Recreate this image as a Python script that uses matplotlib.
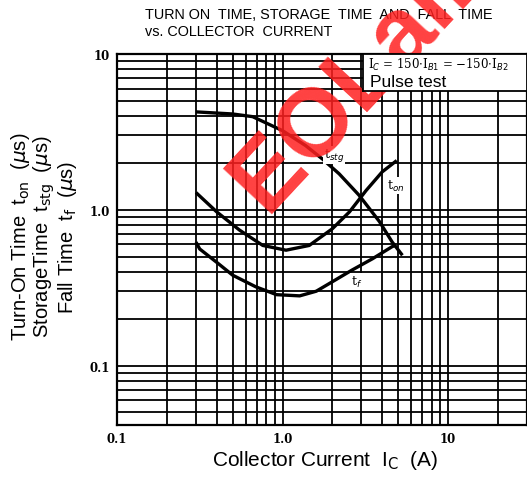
import matplotlib
matplotlib.use("Agg")
import matplotlib.pyplot as plt

# Switching times vs collector current (A -> microseconds)
ic_stg = [0.30, 0.50, 0.66, 1.0, 1.38, 1.74, 2.2, 2.9, 3.85, 4.6, 5.3]
t_stg = [4.25, 4.12, 3.96, 3.22, 2.58, 2.12, 1.70, 1.24, 0.84, 0.62, 0.51]

ic_on = [0.30, 0.40, 0.55, 0.76, 1.05, 1.45, 2.0, 2.54, 3.2, 4.0, 4.9]
t_on = [1.29, 0.97, 0.74, 0.59, 0.55, 0.59, 0.755, 0.97, 1.33, 1.75, 2.07]

ic_f = [0.30, 0.316, 0.40, 0.50, 0.69, 0.92, 1.27, 1.6, 2.0, 2.63, 3.5, 4.6, 4.8]
t_f = [0.62, 0.56, 0.46, 0.38, 0.32, 0.285, 0.28, 0.30, 0.345, 0.41, 0.485, 0.58, 0.59]

x_ticks = [0.1, 1.0, 10]
x_tick_labels = ["0.1", "1.0", "10"]
y_ticks = [0.1, 1.0, 10]
y_tick_labels = ["0.1", "1.0", "10"]

W, H = 527, 481
fig = plt.figure(figsize=(W / 100, H / 100), dpi=100)
ax = fig.add_axes([117 / W, 1 - 426 / H, (527 - 117) / W, (426 - 55) / H])
ax.set_xscale("log")
ax.set_yscale("log")
ax.set_xlim(0.1, 30)
ax.set_ylim(0.0415, 10)

# chart-paper grid
def grid_vals(lo_exp, hi_exp):
    vals = []
    for e in range(lo_exp, hi_exp):
        for m in range(1, 10):
            vals.append(m * 10.0 ** e)
    return vals

for xv in grid_vals(-1, 2):
    if 0.1 < xv < 30:
        ax.axvline(xv, color="black", lw=1.3, zorder=1)
for yv in grid_vals(-2, 1):
    if 0.0415 < yv < 10:
        ax.axhline(yv, color="black", lw=1.3, zorder=1)

for s in ax.spines.values():
    s.set_linewidth(1.6)

ax.plot(ic_stg, t_stg, color="black", lw=2.4, zorder=3, solid_capstyle="butt")
ax.plot(ic_on, t_on, color="black", lw=2.4, zorder=3, solid_capstyle="butt")
ax.plot(ic_f, t_f, color="black", lw=2.4, zorder=3, solid_capstyle="butt")

lab_kw = dict(fontsize=9, family="DejaVu Serif", zorder=4, va="center",
              bbox=dict(facecolor="white", edgecolor="none", pad=0.5))
ax.text(1.78, 2.25, "t$_{stg}$", **lab_kw)
ax.text(4.3, 1.43, "t$_{on}$", **lab_kw)
ax.text(2.6, 0.345, "t$_{f}$", **lab_kw)

ax.set_xticks(x_ticks)
ax.set_xticklabels(x_tick_labels, family="DejaVu Serif", fontsize=8.5, weight="bold")
ax.set_yticks(y_ticks)
ax.set_yticklabels(y_tick_labels, family="DejaVu Serif", fontsize=8.5, weight="bold")
ax.minorticks_off()
ax.tick_params(length=0, pad=5)

# condition box (sits above the watermark)
box_ax = fig.add_axes([363 / W, 1 - 92 / H, (527 - 363) / W, (92 - 55) / H])
box_ax.set_zorder(20)
box_ax.set_xticks([])
box_ax.set_yticks([])
box_ax.set_facecolor("white")
for s in box_ax.spines.values():
    s.set_linewidth(1.3)
box_ax.text(0.03, 0.74, r"I$_C$ = 150$\cdot$I$_{B1}$ = $-$150$\cdot$I$_{B2}$",
            family="DejaVu Serif", fontsize=8.5, va="center", ha="left")
box_ax.text(0.045, 0.27, "Pulse test", family="Liberation Sans", fontsize=12.5,
            va="center", ha="left")

fig.text(145 / W, 1 - 15 / H, "TURN ON  TIME, STORAGE  TIME  AND  FALL  TIME",
         family="Liberation Sans", fontsize=10.4, ha="left", va="center")
fig.text(145 / W, 1 - 32 / H, "vs. COLLECTOR  CURRENT",
         family="Liberation Sans", fontsize=10.4, ha="left", va="center")

fig.text(325 / W, 1 - 461 / H, "Collector Current  I$_\\mathrm{C}$  (A)",
         family="Liberation Sans", fontsize=15, ha="center", va="center")

fig.text(44 / W, 1 - 237 / H,
         "Turn-On Time  t$_\\mathrm{on}$  ($\\mu$s)\nStorageTime  t$_\\mathrm{stg}$  ($\\mu$s)\nFall Time  t$_\\mathrm{f}$  ($\\mu$s)",
         family="Liberation Sans", fontsize=14.5, rotation=90, ha="center",
         va="center", linespacing=0.95)

# watermark
fig.text(266 / W, 1 - 214 / H, "EOLalldatasheet", color="#ff2020", alpha=0.85,
         fontsize=70, family="Liberation Sans", weight="bold", rotation=47,
         rotation_mode="anchor", ha="left", va="baseline", zorder=10)

fig.savefig("out.png", dpi=100)
